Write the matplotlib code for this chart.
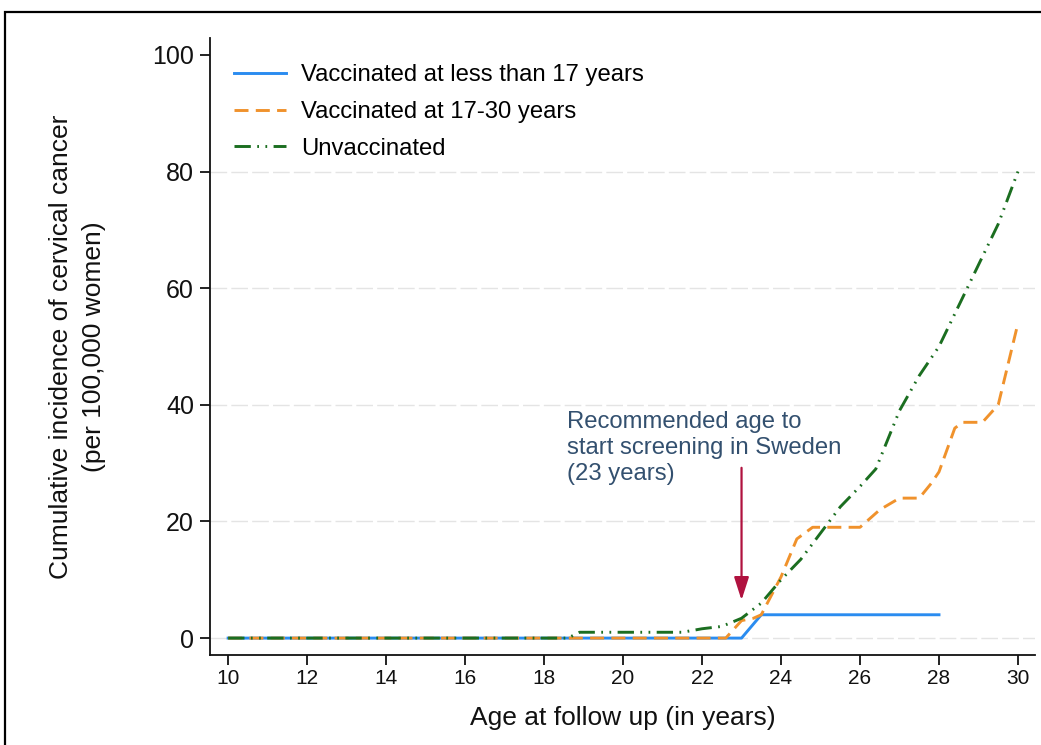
import matplotlib
matplotlib.use('Agg')
import matplotlib.pyplot as plt
from matplotlib.patches import Rectangle

plt.rcParams['font.family'] = ['Liberation Sans', 'DejaVu Sans']

# cumulative incidence per 100,000 women by age at follow up
age_under17 = [10, 23.0, 23.5, 28.0]
inc_under17 = [0, 0, 4, 4]

age_17to30 = [10, 22.6, 23.0, 23.3, 23.5, 24.0, 24.4, 24.8, 26.0, 26.5, 27.0,
              27.5, 27.8, 28.0, 28.4, 28.6, 29.1, 29.5, 30.0]
inc_17to30 = [0, 0, 3, 3.4, 4, 10.5, 17, 19, 19, 22, 24,
              24, 26.5, 28.5, 36, 37, 37, 40, 54]

age_unvacc = [10, 18.6, 18.9, 21.5, 22.0, 22.5, 23.0, 23.5, 24.0, 24.5, 25.0,
              25.5, 26.0, 26.4, 27.0, 27.5, 28.0, 28.5, 29.0, 29.5, 30.0]
inc_unvacc = [0, 0, 1, 1, 1.6, 2, 3.4, 6, 10, 13.5, 18,
              22.5, 26, 29, 39, 45, 50, 57, 64, 71, 80]

series_labels = ['Vaccinated at less than 17 years',
                 'Vaccinated at 17-30 years',
                 'Unvaccinated']

x_ticks = list(range(10, 31, 2))
y_ticks = [0, 20, 40, 60, 80, 100]
screening_age = 23

fig = plt.figure(figsize=(10.41, 7.45), dpi=100)
ax = fig.add_axes([0.2017, 0.1208, 0.7925, 0.8282])

# outer frame around the graph region
fig.patches.append(Rectangle((5 / 1041, -0.2), 1.2, 1.2 - 12 / 745,
                             transform=fig.transFigure, fill=False,
                             edgecolor='black', linewidth=1.6, zorder=0))

lw = 2.1
ax.plot(age_under17, inc_under17, color='#2a8cf0', lw=lw,
        label=series_labels[0], zorder=3)
ax.plot(age_17to30, inc_17to30, color='#f0922c', lw=lw, dashes=(4.8, 2.5),
        label=series_labels[1], zorder=4)
ax.plot(age_unvacc, inc_unvacc, color='#1b6e20', lw=lw,
        dashes=(5.6, 2.2, 0.6, 2.2, 0.6, 2.2),
        label=series_labels[2], zorder=5)

# horizontal reference lines (none at the top tick)
for yv in y_ticks[:-1]:
    ax.axhline(yv, color='#e4e4e4', lw=1.0, dashes=(12, 3), zorder=1)

ax.set_xlim(9.54, 30.43)
ax.set_ylim(-2.9, 102.9)
ax.set_xticks(x_ticks)
ax.set_yticks(y_ticks)

for side in ['top', 'right']:
    ax.spines[side].set_visible(False)
for side in ['left', 'bottom']:
    ax.spines[side].set_linewidth(1.3)
    ax.spines[side].set_color('#111111')

ax.tick_params(axis='both', direction='out', length=7.5, width=1.3,
               color='#111111', labelcolor='#111111')
ax.tick_params(axis='y', pad=4, labelsize=18)
ax.tick_params(axis='x', pad=2.5, labelsize=15)

ax.set_xlabel('Age at follow up (in years)', fontsize=19, color='#111111')
ax.set_ylabel('Cumulative incidence of cervical cancer\n(per 100,000 women)',
              fontsize=19, color='#111111', linespacing=1.45)
ax.yaxis.set_label_coords(-0.126, 0.5)
ax.xaxis.set_label_coords(0.5, -0.082)

leg = ax.legend(loc='upper left', bbox_to_anchor=(0.017, 0.973), frameon=False,
                fontsize=17.2, handlelength=2.2, handletextpad=0.62,
                labelspacing=0.62, borderaxespad=0.0)

ax.annotate('', xy=(screening_age, 6.5), xytext=(screening_age, 29.2),
            arrowprops=dict(arrowstyle='-|>,head_length=1.4,head_width=0.45',
                            color='#b0123f', lw=1.6, shrinkA=0, shrinkB=0),
            zorder=6)
ax.text(18.58, 32.6, 'Recommended age to\nstart screening in Sweden\n(23 years)',
        fontsize=17.2, color='#33506f', ha='left', va='center', linespacing=1.22)

fig.savefig('out.png', dpi=100)
